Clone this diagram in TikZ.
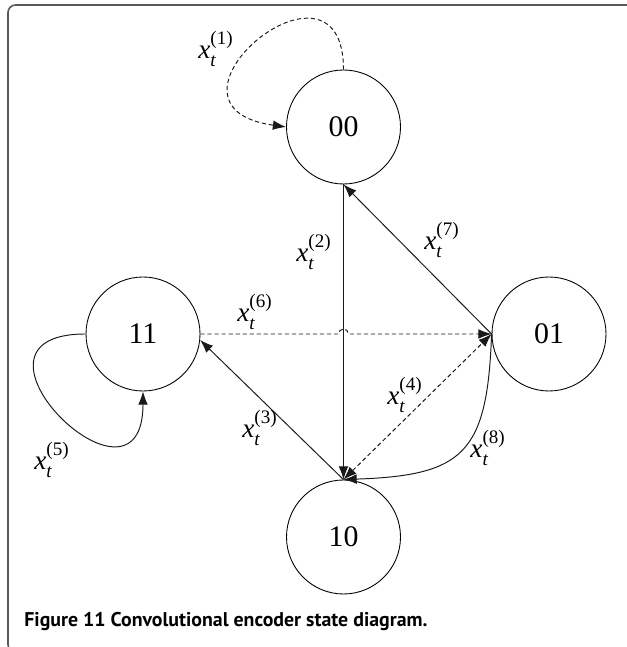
\documentclass[tikz,border=0pt]{standalone}
\usepackage{amsmath}
\usepackage{fontspec}
\setmainfont{Liberation Serif}
\newfontfamily\capfont{PT Sans}
\usetikzlibrary{arrows.meta,calc}

\newcommand{\xlab}[1]{\textit{x}$_{\text{\raisebox{-1pt}{\itshape t}}}^{\text{\raisebox{2.5pt}{(#1)}}}$}

\begin{document}
\begin{tikzpicture}[>={Latex[length=7.5pt,width=5.5pt]},
    state/.style={circle, draw, line width=0.5pt, minimum size=2.28cm, inner sep=0pt, font=\fontsize{17}{19}\selectfont},
    lab/.style={font=\fontsize{15.5}{17}\selectfont, inner sep=0pt},
    edge/.style={line width=0.55pt, draw=black!90},
    dashedge/.style={edge, dash pattern=on 2.4pt off 1.6pt}]

    \useasboundingbox (0,0) rectangle (12.52,12.94);

    % frame of the figure box
    \draw[line width=0.9pt, black!65, rounded corners=0.15cm]
        (13,12.84) -| (0.16,-0.1) -- (3,-0.1);

    \node[state] (s00) at (6.87,10.4) {00};
    \node[state] (s11) at (2.86,6.26) {11};
    \node[state] (s01) at (10.98,6.26) {01};
    \node[state] (s10) at (6.87,2.2) {10};

    % self loops
    \draw[dashedge, ->] (s00.north) to[out=90, in=172, out distance=2.7cm, in distance=3.0cm] (s00.west);
    \draw[edge, ->] (s11.west) to[out=180, in=270, out distance=2.9cm, in distance=2.8cm] (s11.south);

    \draw[edge, ->] (s00.south) -- (s10.north);
    \draw[edge, ->] (s01.west) -- (s00.south);
    \draw[edge, ->] (s10.north) -- (s11.-6);
    \draw[dashedge, <->] (s10.north) -- (s01.west);
    \draw[edge, ->] (s01.west) to[out=-92, in=2, out distance=2.4cm, in distance=2.4cm] (s10.north);

    % dashed line hops over the vertical one
    \coordinate (hop) at ($(s11.east)!(s00.south)!(s01.west)$);
    \draw[dashedge, ->] (s11.east) -- ([xshift=-0.1cm]hop) arc[start angle=180, end angle=0, radius=0.1cm] -- (s01.west);

    \node[lab] (l1) at (4.32,11.96) {\xlab{1}};
    \node[lab] (l2) at (6.28,7.9) {\xlab{2}};
    \node[lab] (l3) at (5.2,4.38) {\xlab{3}};
    \node[lab] (l4) at (8.1,5.04) {\xlab{4}};
    \node[lab] (l5) at (1.04,3.74) {\xlab{5}};
    \node[lab] (l6) at (5.1,6.7) {\xlab{6}};
    \node[lab] (l7) at (8.84,8.14) {\xlab{7}};
    \node[lab] (l8) at (9.76,3.98) {\xlab{8}};

    \node[anchor=base west, inner sep=0pt, font=\capfont\bfseries\fontsize{11.3}{13}\selectfont] (cap) at (0.48,0.4)
        {Figure 11 Convolutional encoder state diagram.};
\end{tikzpicture}
\end{document}
